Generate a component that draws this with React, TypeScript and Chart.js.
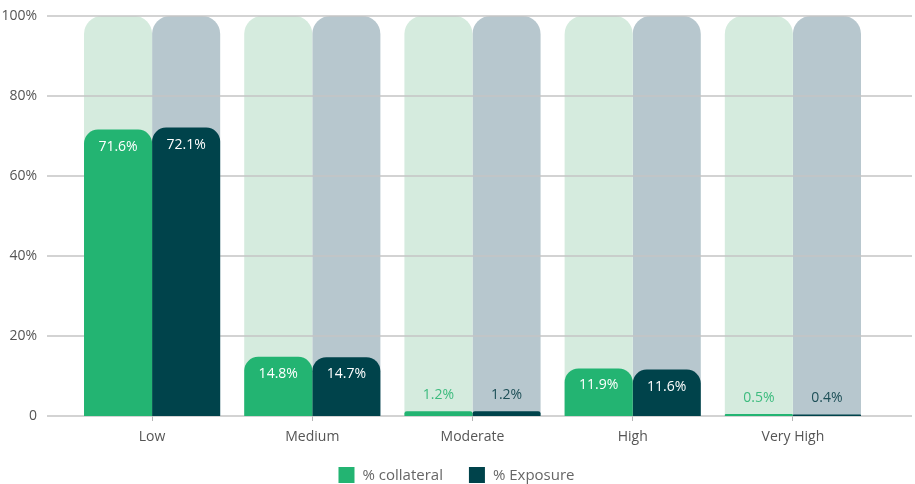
import React, { useEffect, useRef } from "react";
import { Chart, registerables } from "chart.js";

Chart.register(...registerables);

const categories = ["Low", "Medium", "Moderate", "High", "Very High"];
const collateral = [71.6, 14.8, 1.2, 11.9, 0.5];
const exposure = [72.1, 14.7, 1.2, 11.6, 0.4];
const fullScale = [100, 100, 100, 100, 100];
const yTicks = [0, 20, 40, 60, 80, 100];

const GREEN = "#23b472";
const TEAL = "#00434b";
const BG_GREEN = "#d5ebde";
const BG_TEAL = "#b7c7ce";
const FONT = "'Open Sans', sans-serif";

const gridPlugin = {
  id: "customGrid",
  beforeDraw(chart: any) {
    chart.$gridDone = false;
  },
  beforeDatasetDraw(chart: any, args: any) {
    if (chart.$gridDone) return;
    if (!chart.data.datasets[args.index].isMain) return;
    chart.$gridDone = true;
    const y = chart.scales.y;
    const ctx = chart.ctx;
    ctx.save();
    ctx.strokeStyle = "#c4c4c4";
    ctx.lineWidth = 1.5;
    yTicks.forEach((v) => {
      const py = Math.round(y.getPixelForValue(v));
      ctx.beginPath();
      ctx.moveTo(47, py);
      ctx.lineTo(912, py);
      ctx.stroke();
    });
    ctx.restore();
  },
};

const labelPlugin = {
  id: "valueLabels",
  afterDatasetsDraw(chart: any) {
    const ctx = chart.ctx;
    ctx.save();
    ctx.font = `14px ${FONT}`;
    ctx.textAlign = "center";
    ctx.textBaseline = "middle";
    chart.data.datasets.forEach((ds: any, di: number) => {
      if (!ds.isMain) return;
      const meta = chart.getDatasetMeta(di);
      meta.data.forEach((bar: any, i: number) => {
        const v = ds.data[i];
        const txt = v.toFixed(1) + "%";
        if (v >= 5) {
          ctx.fillStyle = "#ffffff";
          ctx.fillText(txt, bar.x, bar.y + 17);
        } else {
          ctx.fillStyle = ds.smallLabelColor;
          ctx.fillText(txt, bar.x, bar.y - 16);
        }
      });
    });
    ctx.restore();
  },
};

const legendPlugin = {
  id: "customLegend",
  afterDraw(chart: any) {
    const ctx = chart.ctx;
    const items = chart.data.datasets.filter((d: any) => d.isMain);
    ctx.save();
    ctx.font = `15px ${FONT}`;
    ctx.textBaseline = "middle";
    const box = 16;
    const gap = 8;
    const spacing = 26;
    const widths = items.map((d: any) => box + gap + ctx.measureText(d.label).width);
    const total = widths.reduce((a: number, b: number) => a + b, 0) + spacing * (items.length - 1);
    let x = (chart.chartArea.left + chart.chartArea.right) / 2 - total / 2 - 16;
    const cy = 475;
    items.forEach((d: any, i: number) => {
      ctx.fillStyle = d.backgroundColor;
      ctx.fillRect(x, cy - box / 2, box, box);
      ctx.fillStyle = "#666666";
      ctx.fillText(d.label, x + box + gap, cy + 1);
      x += widths[i] + spacing;
    });
    ctx.restore();
  },
};

const common = {
  borderSkipped: "start",
  categoryPercentage: 0.85,
  barPercentage: 1.0,
};

export default function App() {
  const ref = useRef<HTMLCanvasElement>(null);

  useEffect(() => {
    document.body.style.margin = "0";
    const canvas = ref.current;
    if (!canvas) return;
    const chart = new Chart(canvas, {
      type: "bar",
      data: {
        labels: categories,
        datasets: [
          {
            ...common,
            label: "% collateral",
            data: collateral,
            backgroundColor: GREEN,
            smallLabelColor: "#3dbb7e",
            isMain: true,
            stack: "a",
            order: 1,
            borderRadius: { topLeft: 14, topRight: 14, bottomLeft: 0, bottomRight: 0 },
          } as any,
          {
            ...common,
            label: "% Exposure",
            data: exposure,
            backgroundColor: TEAL,
            smallLabelColor: "#1d4f57",
            isMain: true,
            stack: "b",
            order: 1,
            borderRadius: { topLeft: 14, topRight: 14, bottomLeft: 0, bottomRight: 0 },
          } as any,
          {
            ...common,
            label: "bg collateral",
            data: fullScale,
            backgroundColor: BG_GREEN,
            stack: "a",
            order: 2,
            borderRadius: { topLeft: 18, topRight: 18, bottomLeft: 0, bottomRight: 0 },
          } as any,
          {
            ...common,
            label: "bg exposure",
            data: fullScale,
            backgroundColor: BG_TEAL,
            stack: "b",
            order: 2,
            borderRadius: { topLeft: 18, topRight: 18, bottomLeft: 0, bottomRight: 0 },
          } as any,
        ],
      },
      options: {
        responsive: false,
        animation: false,
        layout: { padding: { left: 0, right: 42, top: 16, bottom: 38 } },
        plugins: {
          legend: { display: false },
          tooltip: { enabled: false },
        },
        scales: {
          x: {
            type: "category",
            offset: true,
            grid: {
              display: true,
              drawOnChartArea: false,
              offset: false,
              tickLength: 5,
              color: "#b5b5b5",
              lineWidth: 1,
            },
            border: { display: false },
            ticks: {
              color: "#555555",
              font: { family: FONT, size: 14 },
              padding: 8,
            },
            afterFit(scale: any) {
              scale.height = 30;
            },
          },
          y: {
            min: 0,
            max: 100,
            stacked: false,
            afterBuildTicks(scale: any) {
              scale.ticks = yTicks.map((v) => ({ value: v }));
            },
            grid: { display: false, drawTicks: false },
            border: { display: false },
            ticks: {
              color: "#555555",
              font: { family: FONT, size: 14 },
              padding: 35,
              callback: (v: any) => (Number(v) === 0 ? "0" : v + "%"),
            },
            afterFit(scale: any) {
              scale.width = 72;
              scale.paddingTop = 8;
              scale.paddingBottom = 8;
            },
          },
        },
      },
      plugins: [gridPlugin, labelPlugin, legendPlugin],
    });
    return () => chart.destroy();
  }, []);

  return (
    <div style={{ width: 915, height: 484 }}>
      <canvas ref={ref} width={915} height={484} style={{ display: "block" }} />
    </div>
  );
}
